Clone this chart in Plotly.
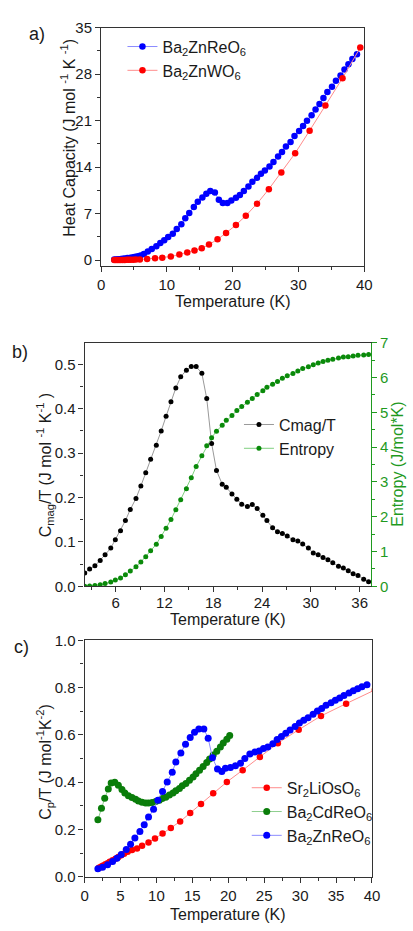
import plotly.graph_objects as go

W, H = 413, 931

# ---------------- data ----------------
# panel a: heat capacity
t_a_re = [2.0, 2.3, 2.6, 3.0, 3.3, 3.6, 4.0, 4.4, 4.8, 5.2, 5.6, 6.0, 6.5, 7.1, 7.7, 8.4, 9.0, 9.6, 10.2, 10.9,
          11.5, 12.2, 12.8, 13.4, 14.1, 14.7, 15.4, 16.0, 16.6, 17.3, 17.9, 18.5, 19.2, 19.8, 20.5, 21.1, 21.7,
          22.4, 23.0, 23.7, 24.3, 24.9, 25.6, 26.2, 26.9, 27.5, 28.1, 28.8, 29.4, 30.1, 30.7, 31.3, 32.0, 32.6,
          33.2, 33.8, 34.4, 35.1, 35.7, 36.4, 37.0, 37.6, 38.2, 38.9]
c_a_re = [0.1, 0.12, 0.15, 0.18, 0.22, 0.27, 0.32, 0.38, 0.45, 0.52, 0.6, 0.7, 0.95, 1.3, 1.7, 2.1, 2.6, 3.0, 3.5, 4.0,
          4.7, 5.4, 6.3, 7.1, 8.0, 8.8, 9.45, 10.0, 10.4, 10.2, 9.1, 8.6, 8.6, 9.0, 9.4, 9.8, 10.4, 11.1, 11.8, 12.4,
          13.0, 13.5, 14.1, 14.8, 15.6, 16.3, 17.1, 17.8, 18.7, 19.45, 20.2, 21.0, 21.8, 22.7, 23.5, 24.4, 25.3, 26.1,
          27.0, 27.8, 28.7, 29.5, 30.3, 31.0]
t_a_w = [2.0, 2.25, 2.5, 2.75, 3.0, 3.3, 3.6, 3.9, 4.2, 4.5, 4.9, 5.3, 5.9, 7.0, 8.2, 9.3, 10.6, 11.9, 13.1, 14.2,
         15.3, 16.4, 17.7, 19.0, 20.5, 22.0, 23.7, 25.5, 27.4, 29.5, 31.7, 34.1, 36.7, 39.4]
c_a_w = [0.02, 0.02, 0.03, 0.03, 0.04, 0.04, 0.05, 0.06, 0.07, 0.08, 0.09, 0.1, 0.12, 0.2, 0.28, 0.38, 0.55, 0.87,
         1.17, 1.47, 1.8, 2.35, 3.15, 4.1, 5.3, 6.7, 8.5, 10.7, 13.2, 16.1, 19.5, 23.3, 27.4, 32.0]

# panel b: magnetic Cp/T and entropy
t_b = [2.2, 2.8, 3.45, 4.1, 4.7, 5.4, 5.96, 6.6, 7.2, 7.8, 8.5, 9.1, 9.7, 10.3, 11.0, 11.6, 12.2, 12.8, 13.4, 14.0,
       14.7, 15.3, 15.9, 16.6, 17.2, 17.8, 18.4, 19.1, 19.6, 20.3, 20.9, 21.5, 22.2, 22.8, 23.4, 24.1, 24.6, 25.3,
       25.9, 26.5, 27.1, 27.8, 28.4, 29.0, 29.7, 30.3, 30.9, 31.5, 32.1, 32.7, 33.4, 34.0, 34.6, 35.2, 35.8, 36.5, 37.1]
cmag_t = [0.030, 0.039, 0.046, 0.058, 0.071, 0.086, 0.105, 0.125, 0.148, 0.173, 0.198, 0.226, 0.256, 0.286, 0.318,
          0.350, 0.383, 0.416, 0.447, 0.472, 0.487, 0.495, 0.495, 0.480, 0.423, 0.322, 0.261, 0.230, 0.223, 0.208,
          0.196, 0.185, 0.180, 0.184, 0.175, 0.160, 0.148, 0.132, 0.123, 0.119, 0.113, 0.105, 0.102, 0.095, 0.086,
          0.075, 0.071, 0.065, 0.060, 0.053, 0.045, 0.041, 0.035, 0.028, 0.024, 0.016, 0.010]
entropy = [0.0, 0.01, 0.02, 0.04, 0.08, 0.12, 0.18, 0.24, 0.33, 0.44, 0.56, 0.70, 0.85, 1.02, 1.21, 1.43, 1.67, 1.92,
           2.20, 2.49, 2.80, 3.12, 3.44, 3.75, 4.04, 4.27, 4.46, 4.63, 4.77, 4.91, 5.05, 5.17, 5.29, 5.40, 5.51, 5.62,
           5.72, 5.81, 5.89, 5.98, 6.05, 6.12, 6.19, 6.26, 6.31, 6.37, 6.42, 6.46, 6.50, 6.53, 6.56, 6.59, 6.60, 6.62,
           6.64, 6.65, 6.66]

# panel c: Cp/T comparison
t_c_os = [2.0, 2.2, 2.4, 2.6, 2.9, 3.2, 3.5, 3.9, 4.3, 4.7, 5.1, 5.5, 6.0, 6.6, 7.3, 8.0, 8.9, 9.8, 10.85, 12.0, 13.3,
          14.7, 16.2, 17.9, 19.8, 22.0, 24.4, 26.9, 29.8, 32.9, 36.4, 40.4]
cp_c_os = [0.038, 0.041, 0.045, 0.048, 0.053, 0.058, 0.064, 0.070, 0.077, 0.084, 0.091, 0.098, 0.106, 0.113, 0.120,
           0.131, 0.145, 0.162, 0.183, 0.206, 0.234, 0.270, 0.308, 0.353, 0.401, 0.451, 0.507, 0.565, 0.622, 0.680,
           0.732, 0.790]
t_c_cd = [1.85, 2.35, 2.8, 3.3, 3.7, 4.2, 4.7, 5.2, 5.6, 6.1, 6.6, 7.1, 7.5, 8.0, 8.5, 8.9, 9.4, 9.9, 10.4, 10.8,
          11.3, 11.8, 12.3, 12.7, 13.2, 13.6, 14.1, 14.6, 15.1, 15.5, 16.0, 16.5, 17.0, 17.4, 17.9, 18.4, 18.9, 19.3,
          19.8, 20.2]
cp_c_cd = [0.241, 0.290, 0.332, 0.371, 0.397, 0.400, 0.387, 0.369, 0.354, 0.343, 0.335, 0.328, 0.321, 0.315, 0.312,
           0.312, 0.314, 0.318, 0.324, 0.331, 0.337, 0.346, 0.354, 0.364, 0.373, 0.385, 0.395, 0.408, 0.422, 0.436,
           0.451, 0.466, 0.483, 0.498, 0.515, 0.531, 0.549, 0.566, 0.582, 0.597]
t_c_zn = [1.85, 2.5, 3.2, 3.9, 4.5, 5.1, 5.8, 6.4, 7.0, 7.7, 8.3, 8.9, 9.6, 10.2, 10.85, 11.5, 12.2, 12.7, 13.4, 14.05,
          14.7, 15.3, 15.9, 16.6, 17.2, 17.8, 18.5, 19.1, 19.6, 20.3, 21.0, 21.7, 22.3, 23.0, 23.7, 24.3, 24.9, 25.5,
          26.2, 26.8, 27.4, 28.0, 28.6, 29.3, 29.9, 30.5, 31.1, 31.8, 32.4, 33.0, 33.6, 34.3, 34.9, 35.5, 36.1, 36.8,
          37.4, 38.0, 38.6, 39.3]
cp_c_zn = [0.034, 0.041, 0.051, 0.065, 0.079, 0.095, 0.116, 0.138, 0.164, 0.192, 0.220, 0.253, 0.286, 0.324, 0.361,
           0.401, 0.442, 0.485, 0.524, 0.561, 0.589, 0.611, 0.625, 0.625, 0.586, 0.503, 0.456, 0.445, 0.459, 0.462,
           0.470, 0.480, 0.500, 0.519, 0.528, 0.532, 0.542, 0.549, 0.563, 0.581, 0.593, 0.607, 0.621, 0.636, 0.650,
           0.662, 0.673, 0.687, 0.701, 0.712, 0.725, 0.736, 0.746, 0.756, 0.766, 0.777, 0.787, 0.795, 0.803, 0.812]

xticks_a = [0, 10, 20, 30, 40]
yticks_a = [0, 7, 14, 21, 28, 35]
xticks_b = [6, 12, 18, 24, 30, 36]
yticks_b = [0.0, 0.1, 0.2, 0.3, 0.4, 0.5]
yticks_b2 = [0, 1, 2, 3, 4, 5, 6, 7]
xticks_c = [0, 5, 10, 15, 20, 25, 30, 35, 40]
yticks_c = [0.0, 0.2, 0.4, 0.6, 0.8, 1.0]

# ---------------- styling ----------------
FONT = "Liberation Sans, Arial, sans-serif"
TXT = "#1a1a1a"
AX = "#333333"
GREEN = "#1f9a1f"


def fx(px):
    return px / W


def fy(py):
    return 1 - py / H


def axis(domain, rng, ticks, dtick, minor_dtick, fmt=None, color=AX, tickcolor=TXT, mirror=True, **kw):
    d = dict(domain=domain, range=rng, tickmode="array", tickvals=ticks,
             ticktext=[fmt(t) for t in ticks] if fmt else None,
             showline=True, linecolor=color, linewidth=1.2, mirror=mirror,
             ticks="outside", ticklen=5, tickwidth=1.2, tickcolor=color,
             minor=dict(dtick=minor_dtick, ticks="outside", ticklen=3, tickwidth=1, tickcolor=color),
             showgrid=False, zeroline=False,
             tickfont=dict(family=FONT, size=15, color=tickcolor))
    d.update(kw)
    return d


fig = go.Figure()

# panel a
fig.add_trace(go.Scatter(x=t_a_re, y=c_a_re, mode="lines+markers", name="Ba<sub>2</sub>ZnReO<sub>6</sub>",
                         line=dict(color="#8c8cff", width=1), marker=dict(color="#0000ff", size=6.5),
                         xaxis="x", yaxis="y", legend="legend"))
fig.add_trace(go.Scatter(x=t_a_w, y=c_a_w, mode="lines+markers", name="Ba<sub>2</sub>ZnWO<sub>6</sub>",
                         line=dict(color="#ff8c8c", width=1), marker=dict(color="#ff0000", size=6.5),
                         xaxis="x", yaxis="y", legend="legend"))

# panel b
fig.add_trace(go.Scatter(x=t_b, y=cmag_t, mode="lines+markers", name="Cmag/T",
                         line=dict(color="#999999", width=1), marker=dict(color="#000000", size=5),
                         xaxis="x2", yaxis="y2", legend="legend2"))
fig.add_trace(go.Scatter(x=t_b, y=entropy, mode="lines+markers", name="Entropy",
                         line=dict(color="#7fcf7f", width=1), marker=dict(color="#0a8a0a", size=5),
                         xaxis="x2", yaxis="y4", legend="legend2"))

# panel c
fig.add_trace(go.Scatter(x=t_c_os, y=cp_c_os, mode="lines+markers", name="Sr<sub>2</sub>LiOsO<sub>6</sub>",
                         line=dict(color="#ff8c8c", width=1), marker=dict(color="#ff0000", size=6.5),
                         xaxis="x3", yaxis="y3", legend="legend3"))
fig.add_trace(go.Scatter(x=t_c_cd, y=cp_c_cd, mode="lines+markers", name="Ba<sub>2</sub>CdReO<sub>6</sub>",
                         line=dict(color="#8fcf8f", width=1), marker=dict(color="#0a7d0a", size=7),
                         xaxis="x3", yaxis="y3", legend="legend3"))
fig.add_trace(go.Scatter(x=t_c_zn, y=cp_c_zn, mode="lines+markers", name="Ba<sub>2</sub>ZnReO<sub>6</sub>",
                         line=dict(color="#8c8cff", width=1), marker=dict(color="#0000ff", size=7),
                         xaxis="x3", yaxis="y3", legend="legend3"))

legfont = dict(family=FONT, size=16, color=TXT)

fig.update_layout(
    width=W, height=H, margin=dict(l=0, r=0, t=0, b=0),
    paper_bgcolor="white", plot_bgcolor="white",
    font=dict(family=FONT, color=TXT),
    xaxis=axis([fx(100), fx(371)], [0, 40], xticks_a, 10, 5, anchor="y"),
    yaxis=axis([fy(262), fy(19)], [-0.9, 35], yticks_a, 7, 3.5, anchor="x"),
    xaxis2=axis([fx(83), fx(378)], [2.18, 37.4], xticks_b, 6, 3, anchor="y2", ticklabelstandoff=-2),
    yaxis2=axis([fy(588), fy(340)], [0, 0.5487], yticks_b, 0.1, 0.05, fmt=lambda v: f"{v:.1f}",
                mirror=False, anchor="x2"),
    yaxis4=axis([fy(588), fy(340)], [0, 7], yticks_b2, 1, 0.5, color=GREEN, tickcolor=GREEN,
                mirror=False, overlaying="y2", side="right", anchor="x2"),
    xaxis3=axis([fx(83), fx(379)], [0, 40], xticks_c, 5, 2.5, anchor="y3"),
    yaxis3=axis([fy(884), fy(643)], [0, 1.0], yticks_c, 0.2, 0.1, fmt=lambda v: f"{v:.1f}", anchor="x3"),
    legend=dict(x=fx(122), y=fy(21), xanchor="left", yanchor="top", bgcolor="rgba(0,0,0,0)",
                font=legfont, tracegroupgap=0),
    legend2=dict(x=fx(242), y=fy(406), xanchor="left", yanchor="top", bgcolor="rgba(0,0,0,0)",
                 font=legfont, tracegroupgap=0),
    legend3=dict(x=fx(250), y=fy(776), xanchor="left", yanchor="top", bgcolor="rgba(0,0,0,0)",
                 font=legfont, tracegroupgap=0),
)

ann = [
    dict(text="a)", x=fx(34), y=fy(25), size=18, color=TXT, angle=0),
    dict(text="b)", x=fx(16), y=fy(349), size=18, color=TXT, angle=0),
    dict(text="c)", x=fx(18), y=fy(650), size=18, color=TXT, angle=0),
    dict(text="Temperature (K)", x=fx(235.5), y=fy(298), size=16, color=TXT, angle=0),
    dict(text="Temperature (K)", x=fx(231), y=fy(622), size=16, color=TXT, angle=0),
    dict(text="Temperature (K)", x=fx(231), y=fy(922), size=16, color=TXT, angle=0),
    dict(text="Heat Capacity (J mol <sup>-1</sup> K <sup>-1</sup>)", x=fx(66), y=fy(131), size=16, color=TXT, angle=-90),
    dict(text="C<sub>mag</sub>/T (J mol <sup>-1</sup> K<sup>-1</sup> )", x=fx(42), y=fy(464), size=16, color=TXT, angle=-90),
    dict(text="Entropy (J/mol*K)", x=fx(405), y=fy(464), size=16, color=GREEN, angle=-90),
    dict(text="C<sub>p</sub>/T (J mol<sup>-1</sup>K<sup>-2</sup>)", x=fx(42), y=fy(767), size=16, color=TXT, angle=-90),
]
for a in ann:
    fig.add_annotation(text=a["text"], x=a["x"], y=a["y"], xref="paper", yref="paper",
                       xanchor="center", yanchor="middle", showarrow=False, textangle=a["angle"],
                       font=dict(family=FONT, size=a["size"], color=a["color"]))

fig.write_html("out.html")
